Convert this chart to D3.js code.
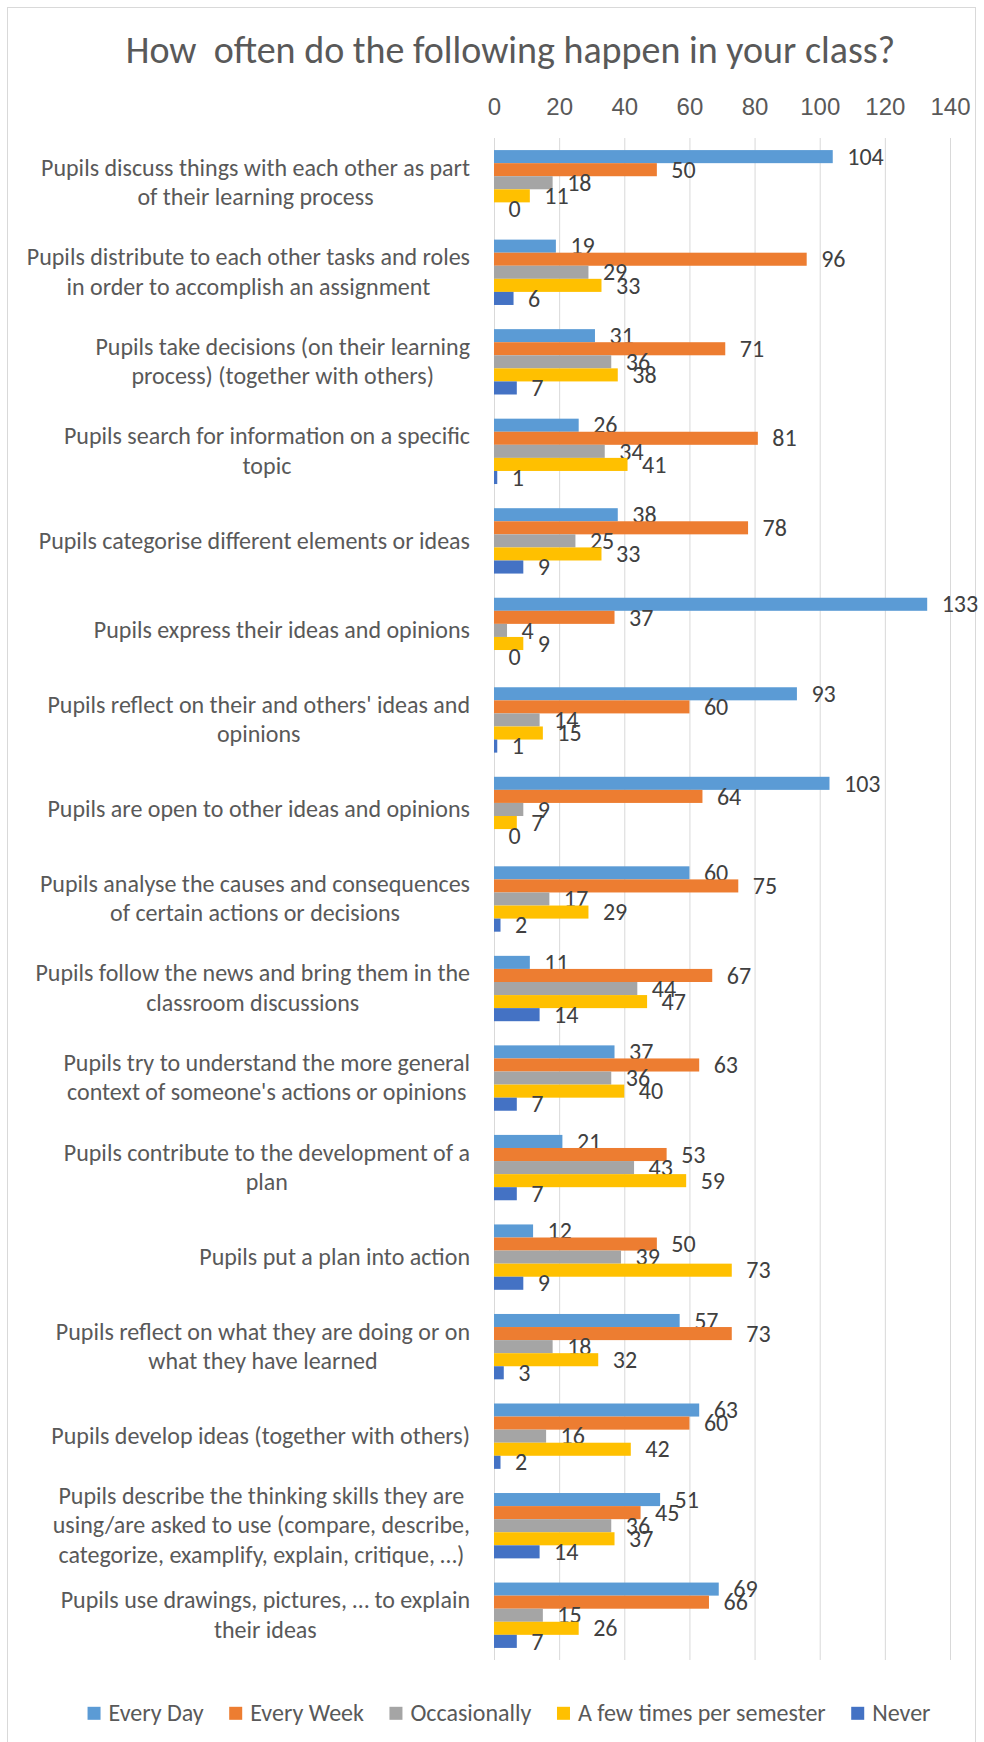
<!DOCTYPE html>
<html>
<head>
<meta charset="utf-8">
<script src="https://cdn.jsdelivr.net/npm/d3@7"></script>
<style>
  html, body { margin: 0; padding: 0; background: #fff; }
  svg { display: block; font-family: Carlito, Calibri, "Open Sans", sans-serif; }
</style>
</head>
<body>
<svg id="chart" width="984" height="1742"></svg>
<script>
// Survey categories (each entry is the list of wrapped label lines)
const categories = [
  ["Pupils discuss things with each other as part", "of their learning process"],
  ["Pupils distribute to each other tasks and roles", "in order to accomplish an assignment"],
  ["Pupils take decisions (on their learning", "process) (together with others)"],
  ["Pupils search for information on a specific", "topic"],
  ["Pupils categorise different elements or ideas"],
  ["Pupils express their ideas and opinions"],
  ["Pupils reflect on their and others' ideas and", "opinions"],
  ["Pupils are open to other ideas and opinions"],
  ["Pupils analyse the causes and consequences", "of certain actions or decisions"],
  ["Pupils follow the news and bring them in the", "classroom discussions"],
  ["Pupils try to understand the more general", "context of someone's actions or opinions"],
  ["Pupils contribute to the development of a", "plan"],
  ["Pupils put a plan into action"],
  ["Pupils reflect on what they are doing or on", "what they have learned"],
  ["Pupils develop ideas (together with others)"],
  ["Pupils describe the thinking skills they are", "using/are asked to use (compare, describe,", "categorize, examplify, explain, critique, …)"],
  ["Pupils use drawings, pictures, … to explain", "their ideas"]
];

const seriesNames = ["Every Day", "Every Week", "Occasionally", "A few times per semester", "Never"];

const everyDay     = [104, 19, 31, 26, 38, 133, 93, 103, 60, 11, 37, 21, 12, 57, 63, 51, 69];
const everyWeek    = [50, 96, 71, 81, 78, 37, 60, 64, 75, 67, 63, 53, 50, 73, 60, 45, 66];
const occasionally = [18, 29, 36, 34, 25, 4, 14, 9, 17, 44, 36, 43, 39, 18, 16, 36, 15];
const fewTimes     = [11, 33, 38, 41, 33, 9, 15, 7, 29, 47, 40, 59, 73, 32, 42, 37, 26];
const never        = [0, 6, 7, 1, 9, 0, 1, 0, 2, 14, 7, 7, 9, 3, 2, 14, 7];

const xTicks = [0, 20, 40, 60, 80, 100, 120, 140];

const seriesValues = [everyDay, everyWeek, occasionally, fewTimes, never];
const colors = ["#5B9BD5", "#ED7D31", "#A5A5A5", "#FFC000", "#4472C4"];

const svg = d3.select("#chart");
const textColor = "#595959";
const fontSize = 24;           // body text size (labels, ticks, legend)
const halfCap = 0.32 * fontSize; // half the cap height, to centre a line on a y position

// Chart frame
svg.append("rect")
  .attr("x", 7.5).attr("y", 7.5)
  .attr("width", 968).attr("height", 1760)
  .attr("fill", "#fff").attr("stroke", "#d9d9d9").attr("stroke-width", 1);

// Title
svg.append("text")
  .attr("x", 510.5).attr("y", 62.7)
  .attr("text-anchor", "middle")
  .attr("fill", textColor).style("font-size", "38px")
  .style("white-space", "pre")
  .text("How  often do the following happen in your class?");

const plotTop = 138, plotBottom = 1660;
const x = d3.scaleLinear().domain([0, 140]).range([494, 950]);

const catIdx = categories.map((_, i) => i);
const y = d3.scaleBand().domain(catIdx).range([plotTop, plotBottom])
  .paddingInner(0.27).paddingOuter(0.135);
const ySeries = d3.scaleBand().domain(d3.range(seriesNames.length))
  .range([0, y.bandwidth()]).padding(0);

// Gridlines and top value axis
const axis = svg.append("g")
  .attr("transform", `translate(0,${plotTop})`)
  .call(d3.axisTop(x).tickValues(xTicks).tickSize(-(plotBottom - plotTop)).tickPadding(23));
axis.select(".domain").remove();
axis.selectAll(".tick line").attr("stroke", "#d9d9d9").attr("stroke-width", 1);
axis.selectAll(".tick text")
  .attr("fill", textColor)
  .style("font-size", fontSize + "px")
  .style("font-family", null);

// Category labels: block right-aligned to the axis, lines centred inside the block
const labelRight = 470, lineH = 29.5;
const catG = svg.append("g").style("font-size", fontSize + "px").attr("fill", textColor);
categories.forEach((lines, i) => {
  const g = catG.append("g");
  const cy = y(i) + y.bandwidth() / 2;
  const texts = lines.map((ln, k) => g.append("text")
    .attr("y", cy + (k - (lines.length - 1) / 2) * lineH + halfCap)
    .attr("text-anchor", "middle")
    .text(ln));
  const w = d3.max(texts, t => t.node().getComputedTextLength());
  texts.forEach(t => t.attr("x", labelRight - w / 2));
});

// Bars and value labels
seriesValues.forEach((vals, s) => {
  const g = svg.append("g");
  g.selectAll("rect").data(vals).join("rect")
    .attr("x", x(0))
    .attr("y", (d, i) => y(i) + ySeries(s))
    .attr("width", d => x(d) - x(0))
    .attr("height", ySeries.bandwidth())
    .attr("fill", colors[s]);
  g.selectAll("text").data(vals).join("text")
    .attr("x", d => x(d) + 14.5)
    .attr("y", (d, i) => y(i) + ySeries(s) + ySeries.bandwidth() / 2 + 0.5 + halfCap)
    .attr("fill", "#404040")
    .style("font-size", fontSize + "px")
    .text(d => d);
});

// Legend
const legendY = 1713.3;
const legend = svg.append("g");
const sw = 13, swGap = 8, itemGap = 25.5;
let lx = 0;
seriesNames.forEach((name, s) => {
  const it = legend.append("g");
  it.append("rect").attr("x", 0).attr("y", -sw / 2).attr("width", sw).attr("height", sw).attr("fill", colors[s]);
  const t = it.append("text").attr("x", sw + swGap).attr("y", halfCap)
    .attr("fill", textColor).style("font-size", fontSize + "px").text(name);
  const w = sw + swGap + t.node().getComputedTextLength();
  it.attr("transform", `translate(${lx},0)`);
  lx += w + itemGap;
});
const totalW = lx - itemGap;
legend.attr("transform", `translate(${509 - totalW / 2},${legendY})`);
</script>
</body>
</html>
